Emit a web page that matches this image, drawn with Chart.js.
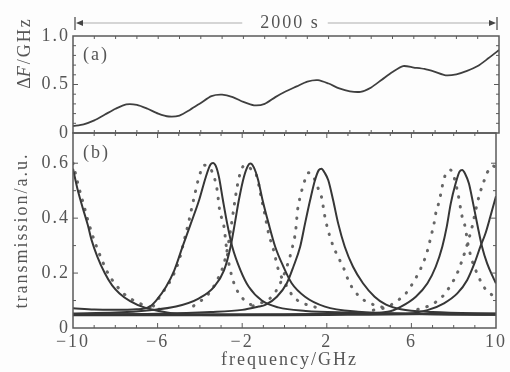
<!DOCTYPE html>
<html>
<head>
<meta charset="utf-8">
<script src="https://cdn.jsdelivr.net/npm/chart.js@4.4.1/dist/chart.umd.min.js"></script>
<style>
html, body { margin:0; padding:0; background:#fdfdfd; }
#wrap { position:relative; width:510px; height:372px; overflow:hidden; }
canvas { position:absolute; left:0; top:0; }
</style>
</head>
<body>
<div id="wrap">
<canvas id="driftChart" width="510" height="372"></canvas>
<canvas id="transChart" width="510" height="372"></canvas>
</div>
<script>
// ================= DATA =================

// panel (a): frequency drift over 2000 s
const driftTime = [0, 50, 100, 150, 200, 250, 300, 350, 400, 450,
  500, 550, 600, 650, 700, 750, 800, 850, 900, 950,
  1000, 1050, 1100, 1150, 1200, 1250, 1300, 1350, 1400, 1450,
  1500, 1550, 1600, 1650, 1700, 1750, 1800, 1850, 1900, 1950, 2000];
const driftShift = [0.072, 0.09, 0.13, 0.19, 0.25, 0.295, 0.29, 0.25, 0.20, 0.17,
  0.18, 0.24, 0.31, 0.38, 0.395, 0.37, 0.32, 0.285, 0.30, 0.37,
  0.43, 0.48, 0.53, 0.545, 0.51, 0.46, 0.43, 0.425, 0.47, 0.55,
  0.63, 0.69, 0.675, 0.66, 0.63, 0.595, 0.605, 0.64, 0.69, 0.77, 0.855];

// panel (b): transmission scans, [frequency GHz, transmission]
const solidEdgeL = [[-10,0.58],[-9.8,0.51],[-9.55,0.44],[-9.3,0.375],[-9.12,0.32],[-8.85,0.26],[-8.5,0.2],
  [-8.15,0.155],[-7.8,0.126],[-7.3,0.098],[-6.6,0.074],[-5.8,0.06],[-5,0.05],[-4,0.047],[-2,0.046],
  [0,0.046],[3,0.048],[6,0.05],[10,0.053]];
const solidA = [[-10,0.072],[-9,0.067],[-8,0.066],[-7,0.068],[-6.38,0.078],[-6.07,0.1],[-5.6,0.15],
  [-5.21,0.21],[-4.82,0.296],[-4.43,0.38],[-4.04,0.465],[-3.72,0.55],[-3.5,0.595],[-3.38,0.601],
  [-3.25,0.59],[-3.1,0.55],[-2.91,0.465],[-2.71,0.38],[-2.47,0.296],[-2.08,0.21],[-1.69,0.15],
  [-1.07,0.1],[-0.3,0.075],[1,0.062],[3,0.056],[5,0.053],[7,0.05],[10,0.048]];
const solidB = [[-10,0.053],[-8,0.056],[-6.38,0.065],[-5.13,0.078],[-4.04,0.108],[-3.33,0.15],
  [-2.86,0.21],[-2.55,0.296],[-2.35,0.38],[-2.16,0.465],[-1.92,0.55],[-1.72,0.592],[-1.61,0.599],
  [-1.45,0.585],[-1.25,0.54],[-1.05,0.47],[-0.75,0.38],[-0.44,0.296],[-0.05,0.223],[0.34,0.163],
  [0.97,0.114],[1.91,0.078],[3.47,0.059],[6,0.052],[10,0.048]];
const solidC = [[-10,0.05],[-6,0.052],[-3.5,0.058],[-2,0.066],[-1.22,0.078],[-0.91,0.084],[-0.36,0.114],
  [0.11,0.163],[0.42,0.223],[0.74,0.296],[0.97,0.38],[1.21,0.465],[1.44,0.538],[1.62,0.575],
  [1.75,0.58],[1.9,0.565],[2.07,0.538],[2.3,0.465],[2.54,0.38],[2.85,0.296],[3.24,0.223],
  [3.71,0.163],[4.26,0.114],[4.8,0.085],[5.5,0.068],[7,0.058],[10,0.052]];
const solidD = [[-10,0.046],[-4,0.046],[0,0.048],[3,0.052],[4.88,0.059],[5.51,0.078],[6.21,0.114],
  [6.76,0.163],[7.15,0.223],[7.46,0.296],[7.67,0.368],[7.86,0.453],[8.09,0.526],[8.28,0.57],
  [8.4,0.575],[8.55,0.56],[8.72,0.526],[8.92,0.453],[9.14,0.368],[9.34,0.296],[9.58,0.235],
  [9.89,0.18],[10,0.163]];
const solidEdgeR = [[-10,0.05],[-4,0.05],[0,0.05],[3,0.051],[5.82,0.053],[6.76,0.065],[7.54,0.09],
  [8.17,0.126],[8.64,0.175],[8.98,0.235],[9.26,0.296],[9.5,0.344],[9.73,0.405],[10,0.48]];

const dottedEdgeL = [[-10,0.6],[-9.75,0.52],[-9.5,0.45],[-9.25,0.38],[-9.0,0.32],[-8.7,0.26],[-8.35,0.2],
  [-7.95,0.155],[-7.6,0.125],[-7.0,0.095],[-6.3,0.075],[-5.5,0.062]];
const dottedA = [[-6.2,0.08],[-5.68,0.138],[-5.29,0.187],[-4.98,0.247],[-4.74,0.32],[-4.51,0.393],
  [-4.27,0.477],[-4.04,0.55],[-3.8,0.593],[-3.55,0.585],[-3.33,0.55],[-3.18,0.5],[-3.07,0.43],
  [-2.86,0.368],[-2.75,0.296],[-2.63,0.235],[-2.39,0.163],[-2.16,0.126],[-1.8,0.095],[-1.3,0.075]];
const dottedB = [[-4.3,0.08],[-3.57,0.126],[-3.18,0.175],[-2.91,0.223],[-2.71,0.284],[-2.55,0.356],
  [-2.39,0.44],[-2.24,0.514],[-2.05,0.575],[-1.85,0.593],[-1.6,0.58],[-1.3,0.55],[-1.14,0.49],
  [-0.94,0.417],[-0.75,0.344],[-0.52,0.284],[-0.28,0.21],[0.03,0.163],[0.42,0.114],[0.89,0.09],[1.5,0.075]];
const dottedC = [[-1.5,0.08],[-1.0,0.095],[-0.6,0.114],[-0.2,0.163],[0.11,0.223],[0.34,0.284],
  [0.53,0.356],[0.62,0.43],[0.74,0.477],[0.89,0.52],[1.13,0.565],[1.35,0.555],[1.52,0.52],
  [1.75,0.477],[1.91,0.405],[2.15,0.332],[2.46,0.27],[2.77,0.223],[3.08,0.163],[3.55,0.114],
  [4.2,0.085],[5,0.07]];
const dottedD = [[4.2,0.065],[4.8,0.075],[5.27,0.096],[5.74,0.126],[6.1,0.168],[6.4,0.21],[6.64,0.253],
  [6.79,0.29],[6.92,0.332],[7.07,0.38],[7.15,0.417],[7.31,0.46],[7.42,0.5],[7.54,0.544],[7.86,0.575],
  [8.05,0.54],[8.2,0.49],[8.4,0.405],[8.56,0.362],[8.64,0.32],[8.85,0.25],[9.14,0.193],[9.42,0.15],
  [9.92,0.114],[10,0.11]];
const dottedE = [[6.3,0.068],[6.92,0.084],[7.46,0.114],[7.86,0.156],[8.17,0.2],[8.4,0.247],[8.56,0.284],
  [8.72,0.326],[8.87,0.368],[9.11,0.453],[9.26,0.496],[9.42,0.532],[9.58,0.565],[9.85,0.59],[10,0.585]];

const solidScans = [solidEdgeL, solidA, solidB, solidC, solidD, solidEdgeR];
const dottedScans = [dottedEdgeL, dottedA, dottedB, dottedC, dottedD, dottedE];

// tick labels
const shiftLabels = [0, 0.5, 1];
const transLabels = [0, 0.2, 0.4, 0.6];
const freqLabels = [-10, -6, -2, 2, 6, 10];
const spanLabel = '2000 s';
const freqTitle = 'frequency/GHz';

// ================= STYLE =================
const FONT = 'Liberation Serif';
const TEXT = '#555';
const FRAME = '#5a5a5a';

function pick(list, v) {
    return list.find(t => Math.abs(t - v) < 1e-6);
}

// letter spacing of the scanned figure
const spacing = {
    id: 'spacing',
    beforeUpdate(chart) { chart.ctx.letterSpacing = '2px'; },
    beforeDraw(chart) { chart.ctx.letterSpacing = '2px'; }
};

// frame + inward ticks on all four sides
function frameTicks(chart, xTop, xBottom) {
    const {ctx, chartArea: a, scales} = chart;
    ctx.save();
    ctx.strokeStyle = FRAME;
    ctx.lineWidth = 1;
    scales.x.ticks.forEach(t => {
        const px = scales.x.getPixelForValue(t.value);
        if (px < a.left + 2 || px > a.right - 2) return;
        const len = t.label ? 5 : 3;
        ctx.beginPath();
        if (xBottom) { ctx.moveTo(px, a.bottom); ctx.lineTo(px, a.bottom - len); }
        if (xTop) { ctx.moveTo(px, a.top); ctx.lineTo(px, a.top + len); }
        ctx.stroke();
    });
    scales.y.ticks.forEach(t => {
        const py = scales.y.getPixelForValue(t.value);
        if (py < a.top + 2 || py > a.bottom - 2) return;
        const len = t.label ? 5 : 3;
        ctx.beginPath();
        ctx.moveTo(a.left, py); ctx.lineTo(a.left + len, py);
        ctx.moveTo(a.right, py); ctx.lineTo(a.right - len, py);
        ctx.stroke();
    });
    ctx.lineWidth = 1.5;
    ctx.strokeRect(a.left, a.top, a.right - a.left, a.bottom - a.top);
    ctx.restore();
}

function panelLabel(chart, text, y) {
    const ctx = chart.ctx;
    ctx.save();
    ctx.font = '18px "' + FONT + '"';
    ctx.fillStyle = TEXT;
    ctx.textAlign = 'left';
    ctx.textBaseline = 'middle';
    ctx.fillText(text, chart.chartArea.left + 10, y);
    ctx.restore();
}

// ================= PANEL (a) =================
const driftDecor = {
    id: 'driftDecor',
    afterDraw(chart) {
        const {ctx, scales} = chart;
        frameTicks(chart, true, true);
        panelLabel(chart, '(a)', 55);

        // 2000 s span arrow
        const x0 = scales.x.getPixelForValue(driftTime[0]) + 2;
        const x1 = scales.x.getPixelForValue(driftTime[driftTime.length - 1]) - 2;
        const y = 23;
        const cx = (x0 + x1) / 2 + 4;
        ctx.save();
        ctx.font = '18px "' + FONT + '"';
        ctx.fillStyle = TEXT;
        ctx.textAlign = 'center';
        ctx.textBaseline = 'middle';
        ctx.fillText(spanLabel, cx, y);
        const tw = ctx.measureText(spanLabel).width;
        ctx.strokeStyle = '#c8c8c8';
        ctx.lineWidth = 1.5;
        ctx.beginPath();
        ctx.moveTo(x0 + 6, y); ctx.lineTo(cx - tw / 2 - 18, y);
        ctx.moveTo(cx + tw / 2 + 8, y); ctx.lineTo(x1 - 6, y);
        ctx.stroke();
        ctx.strokeStyle = '#444';
        ctx.fillStyle = '#444';
        ctx.lineWidth = 1.2;
        ctx.beginPath();
        ctx.moveTo(x0, y - 6); ctx.lineTo(x0, y + 7);
        ctx.moveTo(x1, y - 6); ctx.lineTo(x1, y + 7);
        ctx.stroke();
        ctx.beginPath();
        ctx.moveTo(x0 + 1, y); ctx.lineTo(x0 + 8, y - 3); ctx.lineTo(x0 + 8, y + 3);
        ctx.closePath(); ctx.fill();
        ctx.beginPath();
        ctx.moveTo(x1 - 1, y); ctx.lineTo(x1 - 8, y - 3); ctx.lineTo(x1 - 8, y + 3);
        ctx.closePath(); ctx.fill();

        // y title with italic F
        ctx.translate(25, 52);
        ctx.rotate(-Math.PI / 2);
        ctx.textAlign = 'left';
        ctx.fillStyle = TEXT;
        const parts = [['\u0394', ''], ['F', 'italic '], ['/GHz', '']];
        let total = 0;
        parts.forEach(p => {
            ctx.font = p[1] + '18px "' + FONT + '"';
            total += ctx.measureText(p[0]).width;
        });
        let px = -total / 2;
        parts.forEach(p => {
            ctx.font = p[1] + '18px "' + FONT + '"';
            ctx.fillText(p[0], px, 0);
            px += ctx.measureText(p[0]).width - (p[0] === '\u0394' ? 2 : 0);
        });
        ctx.restore();
    }
};

new Chart(document.getElementById('driftChart'), {
    type: 'line',
    data: {
        datasets: [{
            data: driftTime.map((t, i) => ({x: t, y: driftShift[i]})),
            borderColor: '#3f3f3f',
            borderWidth: 1.8,
            pointRadius: 0,
            tension: 0.25
        }]
    },
    options: {
        responsive: false,
        animation: false,
        devicePixelRatio: 1,
        layout: { padding: { top: 36, right: 11, bottom: 239, left: 0 } },
        plugins: { legend: { display: false }, tooltip: { enabled: false } },
        scales: {
            x: {
                type: 'linear', min: 0, max: 2000,
                ticks: { display: false, stepSize: 100, autoSkip: false, callback: () => '' },
                grid: { display: false, drawTicks: false },
                border: { display: false },
                afterFit: s => { s.height = 0; }
            },
            y: {
                min: 0, max: 1,
                ticks: {
                    stepSize: 0.1, padding: 3, color: TEXT, autoSkip: false,
                    font: { family: FONT, size: 18 },
                    callback: v => {
                        const t = pick(shiftLabels, v);
                        return t === undefined ? '' : (t === 0 ? '0' : t.toFixed(1));
                    }
                },
                grid: { display: false, drawTicks: false },
                border: { display: false },
                afterFit: s => { s.width = 73; }
            }
        }
    },
    plugins: [spacing, driftDecor]
});

// ================= PANEL (b) =================
const transDecor = {
    id: 'transDecor',
    afterDraw(chart) {
        const {ctx, chartArea: a} = chart;
        frameTicks(chart, true, true);
        panelLabel(chart, '(b)', 153);

        // x title
        ctx.save();
        ctx.letterSpacing = '2px';
        ctx.font = '18px "' + FONT + '"';
        ctx.fillStyle = TEXT;
        ctx.textAlign = 'center';
        ctx.textBaseline = 'alphabetic';
        ctx.fillText(freqTitle, (a.left + a.right) / 2 + 5, 365);
        ctx.restore();
    }
};

const transSets = [];
solidScans.forEach(scan => transSets.push({
    data: scan.map(([x, y]) => ({x, y})),
    borderColor: '#363636',
    borderWidth: 2,
    pointRadius: 0,
    cubicInterpolationMode: 'monotone'
}));
dottedScans.forEach(scan => transSets.push({
    data: scan.map(([x, y]) => ({x, y})),
    borderColor: '#666',
    borderWidth: 3,
    borderDash: [0.5, 9],
    borderCapStyle: 'round',
    pointRadius: 0,
    cubicInterpolationMode: 'monotone'
}));

new Chart(document.getElementById('transChart'), {
    type: 'line',
    data: { datasets: transSets },
    options: {
        responsive: false,
        animation: false,
        devicePixelRatio: 1,
        layout: { padding: { top: 133, right: 11, bottom: 0, left: 0 } },
        plugins: { legend: { display: false }, tooltip: { enabled: false } },
        scales: {
            x: {
                type: 'linear', min: -10, max: 10,
                ticks: {
                    stepSize: 1, padding: 3, color: TEXT, autoSkip: false,
                    maxRotation: 0, minRotation: 0,
                    font: { family: FONT, size: 18 },
                    callback: v => {
                        const t = pick(freqLabels, v);
                        return t === undefined ? '' : (t < 0 ? '\u2212' + Math.abs(t) : String(t));
                    }
                },
                grid: { display: false, drawTicks: false },
                border: { display: false },
                afterFit: s => { s.height = 44; }
            },
            y: {
                min: 0, max: 0.71,
                ticks: {
                    stepSize: 0.1, padding: 3, color: TEXT, autoSkip: false,
                    font: { family: FONT, size: 18 },
                    callback: v => {
                        const t = pick(transLabels, v);
                        return t === undefined ? '' : (t === 0 ? '0' : t.toFixed(1));
                    }
                },
                title: {
                    display: true, text: 'transmission/a.u.', color: TEXT,
                    font: { family: FONT, size: 18 },
                    padding: { top: 11, bottom: 0 }
                },
                grid: { display: false, drawTicks: false },
                border: { display: false },
                afterFit: s => { s.width = 73; }
            }
        }
    },
    plugins: [spacing, transDecor]
});
</script>
</body>
</html>
